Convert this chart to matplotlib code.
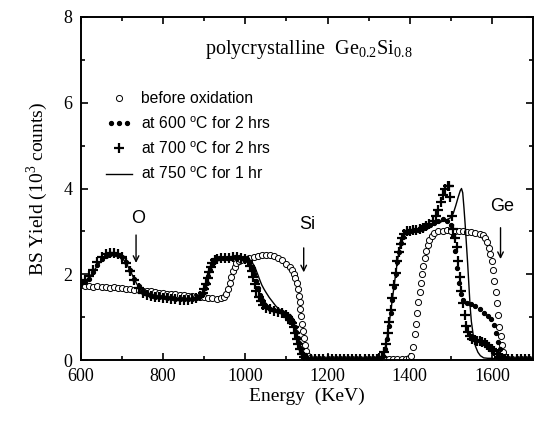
import numpy as np
import matplotlib.pyplot as plt
from matplotlib.legend_handler import HandlerLine2D

# before oxidation (open circles)
e_before = [600, 610, 620, 630, 640, 650, 660, 670, 680, 690, 700, 710, 720, 730, 740, 750,
            760, 770, 780, 790, 800, 810, 820, 830, 840, 850, 860, 870, 880, 890, 900, 910,
            920, 930, 940, 948, 954, 958, 962, 966, 970, 974, 978, 984, 990, 1000, 1010, 1020,
            1030, 1040, 1050, 1060, 1070, 1080, 1090, 1100, 1108, 1114, 1118, 1122, 1125, 1128,
            1130, 1132, 1134, 1136, 1138, 1140, 1142, 1145, 1148, 1152, 1158, 1170, 1180, 1190,
            1200, 1210, 1220, 1230, 1240, 1250, 1260, 1270, 1280, 1290, 1300, 1310, 1320, 1330,
            1340, 1350, 1360, 1370, 1380, 1390, 1398, 1404, 1408, 1412, 1415, 1418, 1421, 1424,
            1427, 1430, 1433, 1436, 1440, 1444, 1448, 1454, 1460, 1470, 1480, 1490, 1500, 1510,
            1520, 1530, 1540, 1550, 1560, 1570, 1578, 1584, 1588, 1592, 1596, 1600, 1603, 1606,
            1609, 1612, 1615, 1618, 1621, 1624, 1628, 1633, 1640, 1650, 1660, 1670, 1680, 1690]
y_before = [1.74, 1.72, 1.73, 1.71, 1.72, 1.70, 1.71, 1.69, 1.70, 1.68, 1.68, 1.66, 1.66, 1.64, 1.63, 1.62,
            1.60, 1.60, 1.58, 1.57, 1.56, 1.55, 1.54, 1.53, 1.52, 1.51, 1.50, 1.49, 1.48, 1.47, 1.46, 1.45,
            1.44, 1.43, 1.44, 1.47, 1.55, 1.66, 1.80, 1.94, 2.08, 2.18, 2.26, 2.31, 2.34, 2.36, 2.38, 2.40,
            2.43, 2.45, 2.45, 2.44, 2.42, 2.39, 2.33, 2.25, 2.17, 2.09, 2.00, 1.92, 1.80, 1.66,
            1.50, 1.35, 1.18, 1.02, 0.85, 0.68, 0.52, 0.35, 0.20, 0.09, 0.04, 0.03, 0.02, 0.02,
            0.02, 0.02, 0.02, 0.02, 0.02, 0.02, 0.02, 0.02, 0.02, 0.02, 0.02, 0.02, 0.02, 0.02,
            0.02, 0.02, 0.02, 0.02, 0.02, 0.03, 0.05, 0.10, 0.30, 0.60, 0.85, 1.10, 1.35, 1.58,
            1.80, 2.00, 2.20, 2.38, 2.55, 2.68, 2.80, 2.90, 2.96, 3.00, 3.02, 3.03, 3.02, 3.02,
            3.01, 3.00, 2.99, 2.98, 2.97, 2.95, 2.92, 2.85, 2.75, 2.62, 2.48, 2.30, 2.10, 1.85,
            1.58, 1.32, 1.05, 0.78, 0.55, 0.35, 0.18, 0.08, 0.03, 0.02, 0.02, 0.02, 0.02, 0.02]

# 600 C for 2 hrs (dots)
e_600 = [600, 610, 620, 630, 640, 650, 660, 670, 680, 690, 700, 710, 720, 730, 740, 750,
         760, 770, 780, 790, 800, 810, 820, 830, 840, 850, 860, 870, 880, 890, 896, 902,
         906, 910, 914, 918, 922, 928, 935, 945, 955, 965, 975, 985, 995, 1005, 1012, 1018,
         1022, 1026, 1030, 1035, 1040, 1046, 1052, 1060, 1070, 1080, 1090, 1100, 1106, 1111,
         1116, 1120, 1124, 1127, 1130, 1134, 1138, 1143, 1150, 1160, 1170, 1180, 1190, 1200,
         1210, 1220, 1230, 1240, 1250, 1260, 1270, 1280, 1290, 1300, 1310, 1320, 1328, 1334,
         1340, 1345, 1350, 1354, 1358, 1362, 1366, 1370, 1374, 1378, 1383, 1390, 1400, 1410,
         1420, 1430, 1440, 1450, 1460, 1470, 1480, 1490, 1500, 1505, 1510, 1515, 1520, 1525,
         1530, 1540, 1550, 1560, 1570, 1580, 1590, 1598, 1604, 1609, 1614, 1619, 1625, 1632,
         1640, 1650, 1660, 1670, 1680, 1690]
y_600 = [1.80, 1.82, 1.90, 2.05, 2.22, 2.35, 2.43, 2.47, 2.48, 2.46, 2.40, 2.28, 2.10, 1.90, 1.72, 1.60,
         1.54, 1.50, 1.48, 1.47, 1.46, 1.45, 1.44, 1.43, 1.42, 1.42, 1.42, 1.43, 1.45, 1.50, 1.56, 1.68,
         1.80, 1.95, 2.10, 2.22, 2.30, 2.35, 2.37, 2.38, 2.38, 2.39, 2.40, 2.40, 2.39, 2.36, 2.28, 2.15,
         2.00, 1.84, 1.68, 1.52, 1.40, 1.30, 1.24, 1.20, 1.17, 1.14, 1.11, 1.07, 1.02, 0.96,
         0.88, 0.78, 0.65, 0.52, 0.40, 0.27, 0.16, 0.08, 0.04, 0.03, 0.02, 0.02, 0.02, 0.02,
         0.02, 0.02, 0.02, 0.02, 0.02, 0.02, 0.02, 0.02, 0.02, 0.02, 0.02, 0.03, 0.05, 0.10,
         0.25, 0.50, 0.80, 1.10, 1.40, 1.70, 2.00, 2.28, 2.52, 2.72, 2.88, 2.98, 3.02, 3.03,
         3.04, 3.06, 3.10, 3.15, 3.20, 3.25, 3.28, 3.25, 3.15, 2.90, 2.55, 2.15, 1.80, 1.55,
         1.40, 1.33, 1.30, 1.25, 1.18, 1.10, 1.02, 0.95, 0.82, 0.62, 0.42, 0.25, 0.10, 0.04,
         0.02, 0.02, 0.02, 0.02, 0.02, 0.02]

# 700 C for 2 hrs (plus)
e_700 = [600, 610, 620, 630, 640, 650, 660, 670, 680, 690, 700, 710, 720, 730, 740, 750,
         760, 770, 780, 790, 800, 810, 820, 830, 840, 850, 860, 870, 880, 890, 896, 900,
         904, 908, 912, 916, 920, 925, 932, 940, 950, 960, 970, 980, 990, 1000, 1006, 1011,
         1015, 1019, 1023, 1027, 1032, 1037, 1043, 1050, 1060, 1070, 1080, 1090, 1098, 1104,
         1109, 1114, 1118, 1122, 1126, 1129, 1133, 1137, 1142, 1150, 1160, 1170, 1180, 1190,
         1200, 1210, 1220, 1230, 1240, 1250, 1260, 1270, 1280, 1290, 1300, 1310, 1320, 1326,
         1332, 1337, 1342, 1346, 1350, 1354, 1358, 1362, 1366, 1370, 1374, 1378, 1382, 1387,
         1393, 1400, 1408, 1416, 1424, 1432, 1440, 1448, 1456, 1463, 1470, 1476, 1482, 1487,
         1492, 1496, 1498, 1502, 1506, 1510, 1514, 1518, 1522, 1526, 1530, 1534, 1538, 1542,
         1547, 1552, 1558, 1564, 1570, 1576, 1582, 1588, 1594, 1600, 1606, 1612, 1618, 1624,
         1632, 1640, 1650, 1660, 1670, 1680, 1690]
y_700 = [1.82, 1.86, 1.95, 2.10, 2.28, 2.40, 2.47, 2.50, 2.50, 2.47, 2.40, 2.27, 2.08, 1.86, 1.68, 1.57,
         1.52, 1.49, 1.47, 1.46, 1.45, 1.44, 1.43, 1.42, 1.41, 1.41, 1.41, 1.42, 1.44, 1.49, 1.57, 1.66,
         1.78, 1.92, 2.06, 2.18, 2.27, 2.33, 2.36, 2.37, 2.38, 2.39, 2.40, 2.40, 2.39, 2.36, 2.30, 2.20,
         2.08, 1.94, 1.78, 1.62, 1.48, 1.37, 1.28, 1.22, 1.18, 1.15, 1.12, 1.09, 1.05, 1.00,
         0.94, 0.86, 0.76, 0.64, 0.50, 0.38, 0.26, 0.15, 0.07, 0.03, 0.02, 0.02, 0.02, 0.02,
         0.02, 0.02, 0.02, 0.02, 0.02, 0.02, 0.02, 0.02, 0.02, 0.02, 0.02, 0.02, 0.02, 0.04,
         0.08, 0.18, 0.38, 0.62, 0.88, 1.16, 1.45, 1.74, 2.02, 2.30, 2.52, 2.70, 2.84, 2.94,
         3.00, 3.02, 3.03, 3.04, 3.06, 3.08, 3.12, 3.18, 3.25, 3.35, 3.50, 3.68, 3.85, 3.98,
         4.06, 4.05, 3.80, 3.35, 3.05, 2.85, 2.64, 2.30, 1.94, 1.62, 1.32, 1.04, 0.80, 0.65,
         0.56, 0.50, 0.47, 0.45, 0.44, 0.42, 0.39, 0.36, 0.31, 0.26, 0.20, 0.13, 0.07, 0.04,
         0.02, 0.02, 0.02, 0.02, 0.02, 0.02, 0.02]

# 750 C for 1 hr (solid line)
e_750 = [600, 610, 620, 630, 640, 650, 660, 670, 680, 690, 700, 710, 720, 730, 740, 750,
         760, 770, 780, 790, 800, 820, 840, 860, 880, 890, 896, 900, 905, 910, 915, 920,
         925, 932, 940, 960, 980, 1000, 1008, 1015, 1020, 1025, 1030, 1035, 1040, 1045, 1050, 1058,
         1066, 1074, 1082, 1090, 1098, 1104, 1110, 1115, 1119, 1123, 1127, 1131, 1135, 1140,
         1146, 1155, 1200, 1250, 1300, 1325, 1332, 1337, 1342, 1346, 1350, 1354, 1358, 1362,
         1366, 1370, 1374, 1378, 1383, 1388, 1395, 1410, 1430, 1450, 1470, 1490, 1500, 1506,
         1512, 1518, 1523, 1526, 1529, 1532, 1535, 1538, 1541, 1544, 1547, 1550, 1555, 1560,
         1566, 1572, 1580, 1590, 1600, 1610, 1620, 1700]
y_750 = [1.78, 1.84, 1.93, 2.06, 2.20, 2.32, 2.40, 2.45, 2.46, 2.44, 2.38, 2.26, 2.08, 1.88, 1.70, 1.59,
         1.53, 1.50, 1.48, 1.47, 1.46, 1.44, 1.42, 1.42, 1.44, 1.48, 1.55, 1.63, 1.78, 1.94, 2.10, 2.22,
         2.30, 2.35, 2.37, 2.38, 2.40, 2.39, 2.36, 2.30, 2.22, 2.12, 2.00, 1.87, 1.75, 1.66, 1.58, 1.46,
         1.36, 1.26, 1.19, 1.13, 1.08, 1.02, 0.95, 0.86, 0.76, 0.63, 0.49, 0.35, 0.23, 0.12,
         0.05, 0.03, 0.02, 0.02, 0.02, 0.03, 0.07, 0.16, 0.36, 0.60, 0.86, 1.14, 1.44, 1.73,
         2.02, 2.30, 2.53, 2.72, 2.86, 2.95, 3.00, 3.02, 3.05, 3.12, 3.20, 3.27, 3.32, 3.42,
         3.60, 3.80, 3.95, 4.00, 3.90, 3.55, 3.15, 2.70, 2.25, 1.75, 1.25, 0.90, 0.55, 0.32,
         0.18, 0.10, 0.05, 0.04, 0.04, 0.03, 0.02, 0.02]

fig = plt.figure(figsize=(5.41, 4.26), dpi=100)
ax = fig.add_axes([0.1497, 0.1549, 0.8355, 0.8052])

serif = 'Liberation Serif'
sans = 'Liberation Sans'

h_before, = ax.plot(e_before, y_before, 'o', mfc='white', mec='black', ms=4.4, mew=0.7,
                    label='before oxidation')
h_600, = ax.plot(e_600, y_600, 'o', color='black', ms=2.8, ls='none',
                 label='at 600 $^\\mathregular{o}$C for 2 hrs')
h_700, = ax.plot(e_700, y_700, '+', color='black', ms=7, mew=1.6, ls='none',
                 label='at 700 $^\\mathregular{o}$C for 2 hrs')
h_750, = ax.plot(e_750, y_750, '-', color='black', lw=1.0,
                 label='at 750 $^\\mathregular{o}$C for 1 hr')

ax.set_xlim(600, 1700)
ax.set_ylim(0, 8)
ax.set_xticks([600, 800, 1000, 1200, 1400, 1600])
ax.set_xticks(np.arange(700, 1700, 200), minor=True)
ax.set_yticks([0, 2, 4, 6, 8])
ax.set_yticks([1, 3, 5, 7], minor=True)
ax.tick_params(which='both', direction='in', top=True, right=True, width=1.2)
ax.tick_params(which='major', length=5, labelsize=13, pad=6)
ax.tick_params(which='minor', length=3)
for lab in ax.get_xticklabels() + ax.get_yticklabels():
    lab.set_fontfamily(serif)
for s in ax.spines.values():
    s.set_linewidth(1.4)

ax.set_xlabel('Energy  (KeV)', fontfamily=serif, fontsize=14, labelpad=2)
ax.set_ylabel('BS Yield (10$^\\mathregular{3}$ counts)', fontfamily=serif, fontsize=14, labelpad=10)

ax.text(0.505, 0.905, 'polycrystalline  Ge$_\\mathregular{0.2}$Si$_\\mathregular{0.8}$',
        transform=ax.transAxes, ha='center', va='center', fontfamily=serif, fontsize=14.5)

leg = ax.legend(handles=[h_before, h_600, h_700, h_750], loc='upper left',
                bbox_to_anchor=(0.025, 0.825), frameon=False, handlelength=1.6,
                handletextpad=0.6, labelspacing=0.56,
                prop={'family': sans, 'size': 11.3},
                handler_map={h_600: HandlerLine2D(numpoints=3)})

arrow = dict(arrowstyle='->', color='black', lw=1.0)
ax.annotate('', xy=(734, 2.2), xytext=(734, 2.98), arrowprops=arrow)
ax.text(738, 3.3, 'O', ha='center', va='center', fontfamily=sans, fontsize=13)
ax.annotate('', xy=(1142, 1.98), xytext=(1142, 2.68), arrowprops=arrow)
ax.text(1150, 3.15, 'Si', ha='center', va='center', fontfamily=sans, fontsize=13)
ax.annotate('', xy=(1621, 2.29), xytext=(1621, 3.15), arrowprops=arrow)
ax.text(1625, 3.57, 'Ge', ha='center', va='center', fontfamily=sans, fontsize=13)

fig.savefig('out.png', dpi=100)
